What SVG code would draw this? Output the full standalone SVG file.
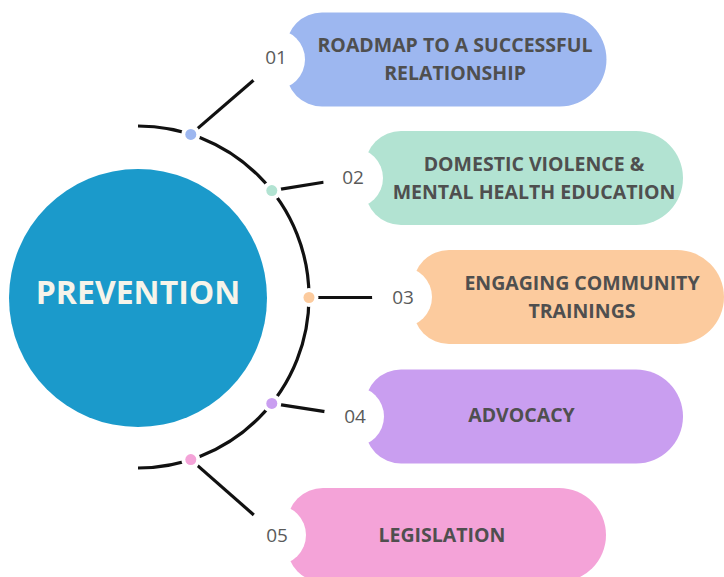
<svg xmlns="http://www.w3.org/2000/svg" width="724" height="577" viewBox="0 0 724 577">
  <style>
    .lbl { font-family: "Open Sans", "Liberation Sans", sans-serif; font-weight: 700; font-size: 19.5px; fill: #4f4f4f; text-anchor: middle; }
    .num { font-family: "Open Sans", "Liberation Sans", sans-serif; font-weight: 400; font-size: 19px; fill: #5a5a5a; text-anchor: middle; }
    .wire { stroke: #111; stroke-width: 3.2; fill: none; stroke-linecap: butt; }
    .gap { fill: #fff; }
    .notch { fill: #fff; }
  </style>
  <rect width="724" height="577" fill="#fff"/>

  <g id="center">
    <circle cx="138" cy="298" r="129" fill="#1b9acb"/>
    <text x="138" y="304" font-family="Open Sans, Liberation Sans, sans-serif" font-weight="700" font-size="32" fill="#f6f4ea" text-anchor="middle">PREVENTION</text>
  </g>

  <g id="connectors">
    <path class="wire" d="M138,126 A171,171 0 0 1 138,468"/>
    <line class="wire" x1="190.8" y1="134.4" x2="255" y2="79"/>
    <line class="wire" x1="271.8" y1="190.6" x2="325" y2="182"/>
    <line class="wire" x1="309" y1="297.5" x2="373" y2="297.5"/>
    <line class="wire" x1="271.8" y1="403.4" x2="325" y2="411.7"/>
    <line class="wire" x1="190.8" y1="459.6" x2="255" y2="516"/>
    <circle class="gap" cx="190.8" cy="134.4" r="9.5"/>
    <circle class="gap" cx="271.8" cy="190.6" r="9.5"/>
    <circle class="gap" cx="309" cy="297.5" r="9.5"/>
    <circle class="gap" cx="271.8" cy="403.4" r="9.5"/>
    <circle class="gap" cx="190.8" cy="459.6" r="9.5"/>
    <circle cx="190.8" cy="134.4" r="5.5" fill="#9db7f0"/>
    <circle cx="271.8" cy="190.6" r="5.5" fill="#b2e3d2"/>
    <circle cx="309" cy="297.5" r="5.5" fill="#fccb9e"/>
    <circle cx="271.8" cy="403.4" r="5.5" fill="#c99ef0"/>
    <circle cx="190.8" cy="459.6" r="5.5" fill="#f4a3d8"/>
  </g>

  <g id="step1">
    <path d="M322,12.5 H559.5 A47,47 0 0 1 559.5,106.5 H322 A36,36 0 0 1 286,70.5 V48.5 A36,36 0 0 1 322,12.5 Z" fill="#9db7f0"/>
    <circle class="notch" cx="275" cy="59.5" r="30"/>
    <text class="num" x="276" y="64">01</text>
    <text class="lbl" x="455" y="52">ROADMAP TO A SUCCESSFUL</text>
    <text class="lbl" x="455" y="80">RELATIONSHIP</text>
  </g>

  <g id="step2">
    <path d="M401,131 H636 A47,47 0 0 1 636,225 H401 A36,36 0 0 1 365,189 V167 A36,36 0 0 1 401,131 Z" fill="#b2e3d2"/>
    <circle class="notch" cx="353" cy="178" r="30"/>
    <text class="num" x="353" y="184">02</text>
    <text class="lbl" x="534" y="171">DOMESTIC VIOLENCE &amp;</text>
    <text class="lbl" x="534" y="199">MENTAL HEALTH EDUCATION</text>
  </g>

  <g id="step3">
    <path d="M449,250 H677 A47,47 0 0 1 677,344 H449 A36,36 0 0 1 413,308 V286 A36,36 0 0 1 449,250 Z" fill="#fccb9e"/>
    <circle class="notch" cx="402" cy="297" r="30"/>
    <text class="num" x="403" y="303.5">03</text>
    <text class="lbl" x="582" y="290">ENGAGING COMMUNITY</text>
    <text class="lbl" x="582" y="318">TRAININGS</text>
  </g>

  <g id="step4">
    <path d="M401,369.5 H636 A47,47 0 0 1 636,463.5 H401 A36,36 0 0 1 365,427.5 V405.5 A36,36 0 0 1 401,369.5 Z" fill="#c99ef0"/>
    <circle class="notch" cx="354" cy="416.5" r="30"/>
    <text class="num" x="355" y="423">04</text>
    <text class="lbl" x="521.5" y="421.5">ADVOCACY</text>
  </g>

  <g id="step5">
    <path d="M323,488 H559 A47,47 0 0 1 559,582 H323 A36,36 0 0 1 287,546 V524 A36,36 0 0 1 323,488 Z" fill="#f4a3d8"/>
    <circle class="notch" cx="276" cy="535" r="30"/>
    <text class="num" x="277" y="541.5">05</text>
    <text class="lbl" x="442" y="542">LEGISLATION</text>
  </g>
</svg>
